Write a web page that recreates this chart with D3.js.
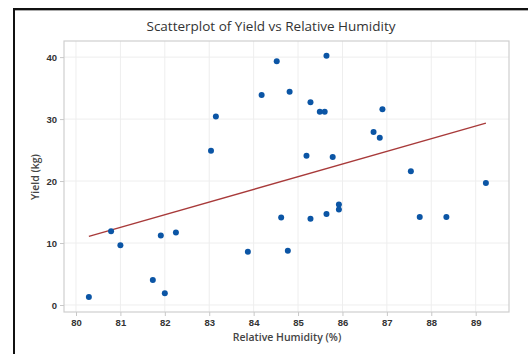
<!DOCTYPE html>
<html>
<head>
<meta charset="utf-8">
<script src="https://cdn.jsdelivr.net/npm/d3@7"></script>
<style>
  body { margin:0; background:#fff; }
  svg { display:block; font-family:"Open Sans","Noto Sans",sans-serif; }
</style>
</head>
<body>
<div id="chart"></div>
<script>
// relative humidity (%) and yield (kg)
var humidity = [80.29, 80.79, 81.0, 81.73, 81.91, 82.0, 82.25, 83.87, 83.15, 83.04,
                84.18, 84.52, 84.81, 85.28, 85.49, 85.6, 85.64, 86.9, 86.7, 86.84,
                85.19, 85.78, 87.54, 89.23, 84.62, 84.77, 85.28, 85.64, 85.92, 85.92,
                87.74, 88.34];
var yieldKg = [1.3, 11.9, 9.65, 4.05, 11.2, 1.9, 11.7, 8.6, 30.4, 24.9,
               33.9, 39.35, 34.4, 32.7, 31.2, 31.2, 40.2, 31.6, 27.9, 27.0,
               24.1, 23.9, 21.6, 19.7, 14.1, 8.76, 13.9, 14.7, 16.2, 15.4,
               14.2, 14.2];
var xTicks = [80, 81, 82, 83, 84, 85, 86, 87, 88, 89];
var yTicks = [0, 10, 20, 30, 40];
// fitted line: yield = intercept + slope * humidity
var fitIntercept = -153.21;
var fitSlope = 2.046;

var width = 528, height = 354;
var margin = {top:41, right:19, bottom:42, left:64};
var plotWidth = width - margin.left - margin.right;
var plotHeight = height - margin.top - margin.bottom;

var svg = d3.select('#chart').append('svg').attr('width', width).attr('height', height);

// outer frame (only top and left visible in the crop)
svg.append('line').attr('x1',13).attr('x2',width).attr('y1',9).attr('y2',9)
  .attr('stroke','#111').attr('stroke-width',2);
svg.append('line').attr('x1',14).attr('x2',width).attr('y1',10.5).attr('y2',10.5)
  .attr('stroke','#aaa').attr('stroke-width',1);
svg.append('line').attr('x1',14).attr('x2',14).attr('y1',8).attr('y2',height)
  .attr('stroke','#111').attr('stroke-width',2);

var xs = d3.scaleLinear().domain([79.73, 89.75]).range([0, plotWidth]);
var ys = d3.scaleLinear().domain([-1.13, 42.6]).range([plotHeight, 0]);

var plotArea = svg.append('g')
  .attr('transform', 'translate(' + margin.left + ',' + margin.top + ')');

// grid
plotArea.selectAll('.vgrid').data(xTicks).enter().append('line')
  .attr('x1', function(d){ return xs(d); }).attr('x2', function(d){ return xs(d); })
  .attr('y1', 0).attr('y2', plotHeight)
  .attr('stroke', '#eeeeee').attr('stroke-width', 1);
plotArea.selectAll('.hgrid').data(yTicks).enter().append('line')
  .attr('y1', function(d){ return ys(d); }).attr('y2', function(d){ return ys(d); })
  .attr('x1', 0).attr('x2', plotWidth)
  .attr('stroke', '#eeeeee').attr('stroke-width', 1);

plotArea.append('rect').attr('x',0).attr('y',0)
  .attr('width', plotWidth).attr('height', plotHeight)
  .attr('fill','none').attr('stroke','#cfcfcf').attr('stroke-width',1.2);

// axes
var xAxis = plotArea.append('g')
  .attr('transform', 'translate(0,' + plotHeight + ')')
  .call(d3.axisBottom(xs).tickValues(xTicks).tickSize(4).tickPadding(3).tickFormat(d3.format('d')));
var yAxis = plotArea.append('g')
  .call(d3.axisLeft(ys).tickValues(yTicks).tickSize(4).tickPadding(3).tickFormat(d3.format('d')));
[xAxis, yAxis].forEach(function(a){
  a.select('.domain').remove();
  a.selectAll('.tick line').attr('stroke', '#c8c8c8');
  a.selectAll('.tick text').attr('fill', '#333').style('font-size', '9.5px')
    .style('font-weight', '600');
});

// fitted line over the data range
var xExt = d3.extent(humidity);
plotArea.append('line')
  .attr('x1', xs(xExt[0])).attr('y1', ys(fitIntercept + fitSlope * xExt[0]))
  .attr('x2', xs(xExt[1])).attr('y2', ys(fitIntercept + fitSlope * xExt[1]))
  .attr('stroke', '#a83a3a').attr('stroke-width', 1.4);

// points
plotArea.selectAll('circle').data(humidity).enter().append('circle')
  .attr('cx', function(d){ return xs(d); })
  .attr('cy', function(d, i){ return ys(yieldKg[i]); })
  .attr('r', 3)
  .attr('fill', '#0b55a5');

// text
svg.append('text').attr('x', 271).attr('y', 31).attr('text-anchor','middle')
  .attr('fill','#333').style('font-size','13.5px')
  .text('Scatterplot of Yield vs Relative Humidity');
svg.append('text').attr('x', 287).attr('y', 341).attr('text-anchor','middle')
  .attr('fill','#444').style('font-size','10.5px').style('font-weight','600')
  .text('Relative Humidity (%)');
svg.append('text').attr('transform','translate(39,177) rotate(-90)')
  .attr('text-anchor','middle')
  .attr('fill','#444').style('font-size','10.5px').style('font-weight','600')
  .text('Yield (kg)');
</script>
</body>
</html>
